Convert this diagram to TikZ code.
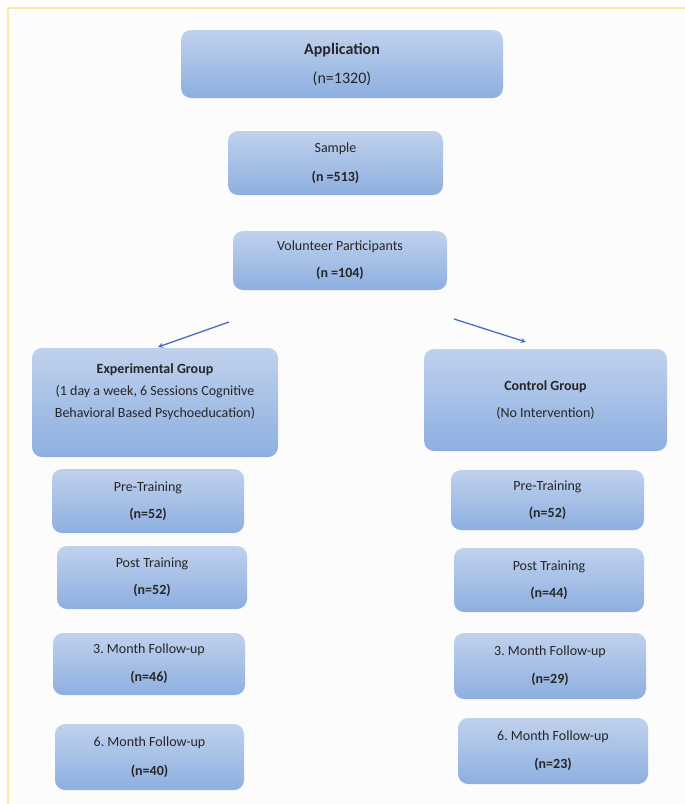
\documentclass[tikz,border=0pt]{standalone}
\usepackage{fontspec}
\setmainfont{Carlito}
\usepackage{tikz}
\definecolor{boxtop}{RGB}{192,209,237}
\definecolor{boxbot}{RGB}{141,175,224}
\definecolor{arrowblue}{RGB}{72,110,190}
\definecolor{frameyellow}{RGB}{252,233,160}

\tikzset{
    stage/.style={rounded corners=10pt, top color=boxtop, bottom color=boxbot, align=center, inner sep=2pt, font=\fontsize{14}{17}\selectfont, text=black!85},
    flow/.style={draw=arrowblue, line width=1.3pt, -stealth}
}

\begin{document}
\begin{tikzpicture}[x=1pt, y=-1pt]
        \useasboundingbox (0, 0) rectangle (685, 804);
        \fill[white!99!black] (8, 8) rectangle (685, 804);
        \draw[frameyellow, line width=1.5pt] (8, 804) -- (8, 8) -- (685, 8);

        \node[stage, minimum width=322pt, minimum height=68pt, font=\fontsize{16}{19}\selectfont] (app) at (342, 64) {\textbf{Application}\\[10pt](n=1320)};
        \node[stage, minimum width=215pt, minimum height=64pt] (samp) at (335.5, 163) {Sample\\[12pt]\textbf{(n =513)}};
        \node[stage, minimum width=214pt, minimum height=59pt] (vol) at (340, 260.5) {Volunteer Participants\\[10pt]\textbf{(n =104)}};

        \node[stage, minimum width=246pt, minimum height=109pt, text depth=24pt] (exp) at (155, 402.5) {\textbf{Experimental Group}\\[5pt](1 day a week, 6 Sessions Cognitive\\[5pt]Behavioral Based Psychoeducation)};
        \node[stage, minimum width=243pt, minimum height=102pt] (ctrl) at (545.5, 400) {\textbf{Control Group}\\[10pt](No Intervention)};

        \coordinate (vl) at (229, 322);
        \coordinate (vr) at (454, 319);
        \draw[flow] (vl) -- (158, 347) coordinate (el);
        \draw[flow] (vr) -- (526, 342) coordinate (cl);

        \node[stage, minimum width=192pt, minimum height=64pt] (epre) at (148, 501) {Pre-Training\\[10pt]\textbf{(n=52)}};
        \node[stage, minimum width=190pt, minimum height=63pt] (epost) at (152, 577.5) {Post Training\\[10pt]\textbf{(n=52)}};
        \node[stage, minimum width=192pt, minimum height=62pt] (ethree) at (149, 664) {3.\ Month Follow-up\\[11pt]\textbf{(n=46)}};
        \node[stage, minimum width=189pt, minimum height=66pt] (esix) at (149.5, 757) {6.\ Month Follow-up\\[12pt]\textbf{(n=40)}};

        \node[stage, minimum width=193pt, minimum height=60pt] (cpre) at (547.5, 500) {Pre-Training\\[10pt]\textbf{(n=52)}};
        \node[stage, minimum width=190pt, minimum height=64pt] (cpost) at (549, 580) {Post Training\\[10pt]\textbf{(n=44)}};
        \node[stage, minimum width=192pt, minimum height=66pt] (cthree) at (550, 666) {3.\ Month Follow-up\\[11pt]\textbf{(n=29)}};
        \node[stage, minimum width=190pt, minimum height=66pt] (csix) at (553, 751) {6.\ Month Follow-up\\[11pt]\textbf{(n=23)}};
    \end{tikzpicture}
\end{document}
